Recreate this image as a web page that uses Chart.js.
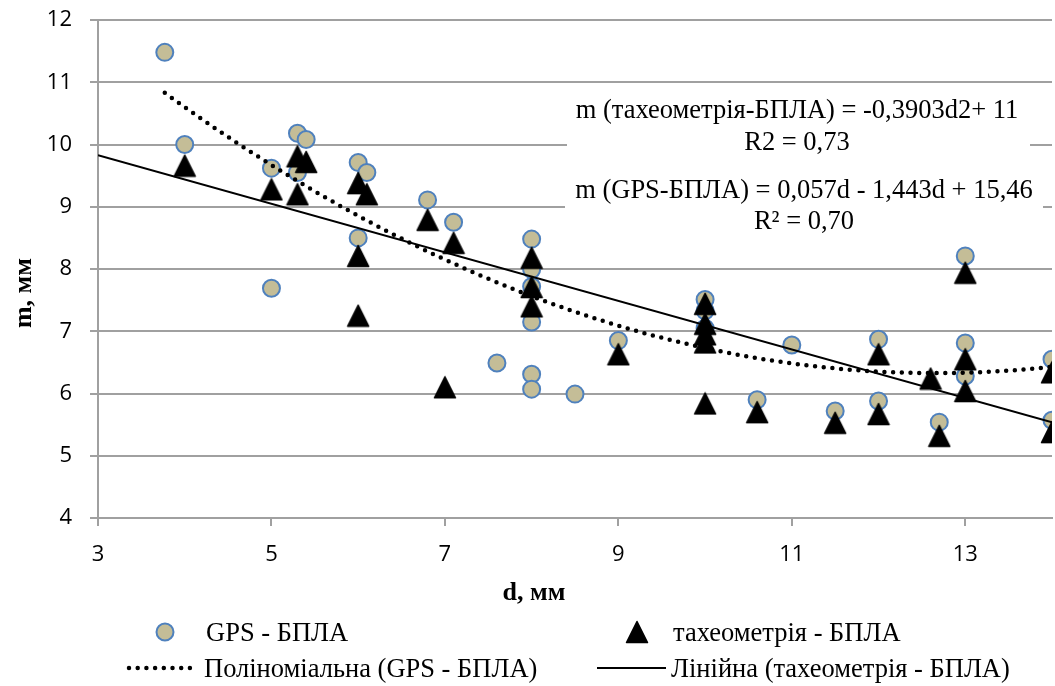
<!DOCTYPE html>
<html>
<head>
<meta charset="utf-8">
<script src="https://cdn.jsdelivr.net/npm/chart.js@4.4.1/dist/chart.umd.min.js"></script>
<style>
  html, body { margin: 0; padding: 0; background: #ffffff; }
  #wrap { width: 1055px; height: 686px; position: relative; }
</style>
</head>
<body>
<div id="wrap"><canvas id="chart" width="1055" height="686"></canvas></div>
<script>
// Measurements: GPS vs UAV
const gpsD = [3.77, 4.0, 5.0, 5.0, 5.3, 5.3, 5.4, 6.0, 6.0, 6.1, 6.8, 7.1, 7.6, 8.0, 8.0, 8.0, 8.0, 8.0, 8.0, 8.5, 9.0, 10.0, 10.0, 10.0, 10.6, 11.0, 11.5, 12.0, 12.0, 12.7, 13.0, 13.0, 13.0, 14.0, 14.0];
const gpsM = [11.48, 10.0, 9.62, 7.69, 10.18, 9.55, 10.08, 9.71, 8.5, 9.55, 9.11, 8.75, 6.49, 8.48, 7.99, 7.72, 7.15, 6.31, 6.07, 5.99, 6.85, 7.51, 7.33, 7.05, 5.90, 6.78, 5.72, 6.87, 5.88, 5.54, 8.21, 6.81, 6.28, 6.55, 5.57];

// Measurements: tacheometry vs UAV
const taxD = [4.0, 5.0, 5.3, 5.3, 5.4, 6.0, 6.0, 6.0, 6.1, 6.8, 7.0, 7.1, 8.0, 8.0, 8.0, 9.0, 10.0, 10.0, 10.0, 10.0, 10.0, 10.6, 11.5, 12.0, 12.0, 12.6, 12.7, 13.0, 13.0, 13.0, 14.0, 14.0];
const taxM = [9.66, 9.28, 9.81, 9.20, 9.72, 9.38, 8.21, 7.25, 9.20, 8.79, 6.10, 8.42, 8.18, 7.71, 7.40, 6.63, 7.44, 7.12, 6.95, 6.82, 5.84, 5.70, 5.53, 6.63, 5.67, 6.24, 5.32, 7.94, 6.55, 6.04, 6.34, 5.38];

// Trend line coefficients as printed in the equation labels
const polyGps = [0.057, -1.443, 15.46];   // a*d^2 + b*d + c
const linTax = [-0.3903, 11];             // k*d + b
const linRange = [3, 14];

const xTickValues = [3, 5, 7, 9, 11, 13];

const legendLabels = ['GPS - БПЛА', 'тахеометрія - БПЛА', 'Поліноміальна (GPS - БПЛА)', 'Лінійна (тахеометрія - БПЛА)'];
const eqTax = ['m (тахеометрія-БПЛА) = -0,3903d2+ 11', 'R2 = 0,73'];
const eqGps = ['m (GPS-БПЛА) = 0,057d - 1,443d + 15,46', 'R² = 0,70'];
const xTitle = 'd, мм';
const yTitle = 'm, мм';

// ---- styling ----
const GRID = '#a0a0a0';
const SERIF = '"Liberation Serif", "Times New Roman", serif';
const TICKFONT = { family: '"Open Sans", sans-serif', size: 22 };
const GPS_FILL = '#c4bd97';
const GPS_EDGE = '#4f81bd';
const DOT_DASH = [0, 8.7];

function makeTriangle() {
  const c = document.createElement('canvas');
  c.width = 24; c.height = 24;
  const g = c.getContext('2d');
  g.fillStyle = '#000';
  g.strokeStyle = '#000';
  g.lineWidth = 1.5;
  g.lineJoin = 'round';
  g.beginPath();
  g.moveTo(12, 1.5);
  g.lineTo(22.5, 22.5);
  g.lineTo(1.5, 22.5);
  g.closePath();
  g.fill();
  g.stroke();
  return c;
}
const triangle = makeTriangle();

const polyAt = d => polyGps[0] * d * d + polyGps[1] * d + polyGps[2];
const linAt = d => linTax[0] * d + linTax[1];

const polyFrom = Math.min(...gpsD), polyTo = Math.max(...gpsD);
const polyPts = [];
for (let i = 0; i <= 400; i++) {
  const d = polyFrom + (polyTo - polyFrom) * i / 400;
  polyPts.push({ x: d, y: polyAt(d) });
}
const linPts = linRange.map(d => ({ x: d, y: linAt(d) }));

const gpsPts = gpsD.map((d, i) => ({ x: d, y: gpsM[i] }));
const taxPts = taxD.map((d, i) => ({ x: d, y: taxM[i] }));

function drawDotLine(ctx, x1, x2, y) {
  ctx.save();
  ctx.strokeStyle = '#000';
  ctx.lineWidth = 4.5;
  ctx.lineCap = 'round';
  ctx.setLineDash(DOT_DASH);
  ctx.beginPath();
  ctx.moveTo(x1, y);
  ctx.lineTo(x2, y);
  ctx.stroke();
  ctx.restore();
}

const decor = {
  id: 'decor',
  beforeDatasetsDraw(chart) {
    const ctx = chart.ctx;
    ctx.save();
    ctx.fillStyle = '#ffffff';
    ctx.fillRect(567, 92, 463, 68);
    ctx.fillRect(565, 174, 478, 64);
    ctx.restore();
  },
  afterDatasetsDraw(chart) {
    const ctx = chart.ctx;
    ctx.save();
    ctx.fillStyle = '#000';
    ctx.font = '26.5px ' + SERIF;
    ctx.textAlign = 'center';
    ctx.textBaseline = 'alphabetic';
    ctx.fillText(eqTax[0], 797, 118);
    ctx.fillText(eqTax[1], 797, 150);
    ctx.fillText(eqGps[0], 804, 198);
    ctx.fillText(eqGps[1], 804, 229);
    ctx.restore();
  },
  afterDraw(chart) {
    const ctx = chart.ctx;
    ctx.save();
    ctx.fillStyle = '#000';
    // axis titles
    ctx.font = 'bold 26px ' + SERIF;
    ctx.textAlign = 'center';
    ctx.textBaseline = 'alphabetic';
    ctx.fillText(xTitle, 534, 600);
    ctx.save();
    ctx.translate(31, 293);
    ctx.rotate(-Math.PI / 2);
    ctx.fillText(yTitle, 0, 0);
    ctx.restore();

    // legend
    ctx.font = '26.5px ' + SERIF;
    ctx.textAlign = 'left';
    const row1 = 641, row2 = 677;
    // GPS marker
    ctx.beginPath();
    ctx.arc(165, 632, 8.5, 0, Math.PI * 2);
    ctx.fillStyle = GPS_FILL;
    ctx.fill();
    ctx.lineWidth = 2;
    ctx.strokeStyle = GPS_EDGE;
    ctx.stroke();
    ctx.fillStyle = '#000';
    ctx.fillText(legendLabels[0], 206, row1);
    // tacheometry marker
    ctx.drawImage(triangle, 637 - 12, 632 - 12);
    ctx.fillText(legendLabels[1], 673, row1);
    // polynomial trend sample
    drawDotLine(ctx, 129, 196, 668);
    ctx.fillText(legendLabels[2], 204, row2);
    // linear trend sample
    ctx.beginPath();
    ctx.moveTo(597, 668);
    ctx.lineTo(666, 668);
    ctx.lineWidth = 2;
    ctx.strokeStyle = '#000';
    ctx.stroke();
    ctx.fillText(legendLabels[3], 671, row2);
    ctx.restore();
  }
};

new Chart(document.getElementById('chart'), {
  type: 'scatter',
  data: {
    datasets: [
      {
        label: legendLabels[3],
        data: linPts,
        showLine: true,
        borderColor: '#000',
        borderWidth: 2,
        pointRadius: 0,
        tension: 0
      },
      {
        label: legendLabels[2],
        data: polyPts,
        showLine: true,
        borderColor: '#000',
        borderWidth: 4.5,
        borderDash: DOT_DASH,
        borderCapStyle: 'round',
        pointRadius: 0,
        tension: 0
      },
      {
        label: legendLabels[1],
        data: taxPts,
        pointStyle: triangle,
        pointRadius: 11,
        pointHoverRadius: 11,
        backgroundColor: '#000',
        borderColor: '#000'
      },
      {
        label: legendLabels[0],
        data: gpsPts,
        pointStyle: 'circle',
        pointRadius: 8.5,
        pointHoverRadius: 8.5,
        pointBorderWidth: 2,
        backgroundColor: GPS_FILL,
        borderColor: GPS_EDGE
      }
    ]
  },
  options: {
    responsive: false,
    animation: false,
    devicePixelRatio: 1,
    layout: { autoPadding: false, padding: { top: 20, right: 3, bottom: 0, left: 0 } },
    plugins: {
      legend: { display: false },
      tooltip: { enabled: false }
    },
    scales: {
      x: {
        type: 'linear',
        min: 3,
        max: 14,
        afterBuildTicks: s => { s.ticks = xTickValues.map(v => ({ value: v })); },
        afterFit: s => { s.height = 168; s.paddingLeft = 0; s.paddingRight = 0; },
        grid: { drawOnChartArea: false, drawTicks: true, tickLength: 8, color: GRID, lineWidth: 2 },
        border: { display: true, color: GRID, width: 2 },
        ticks: { font: TICKFONT, color: '#000', padding: 16, maxRotation: 0, autoSkip: false }
      },
      y: {
        type: 'linear',
        min: 4,
        max: 12,
        afterFit: s => { s.width = 98; s.paddingTop = 0; s.paddingBottom = 0; },
        grid: { drawOnChartArea: true, drawTicks: true, tickLength: 8, color: GRID, lineWidth: 2 },
        border: { display: true, color: GRID, width: 2 },
        ticks: { stepSize: 1, font: TICKFONT, color: '#000', padding: 18 }
      }
    }
  },
  plugins: [decor]
});
</script>
</body>
</html>
